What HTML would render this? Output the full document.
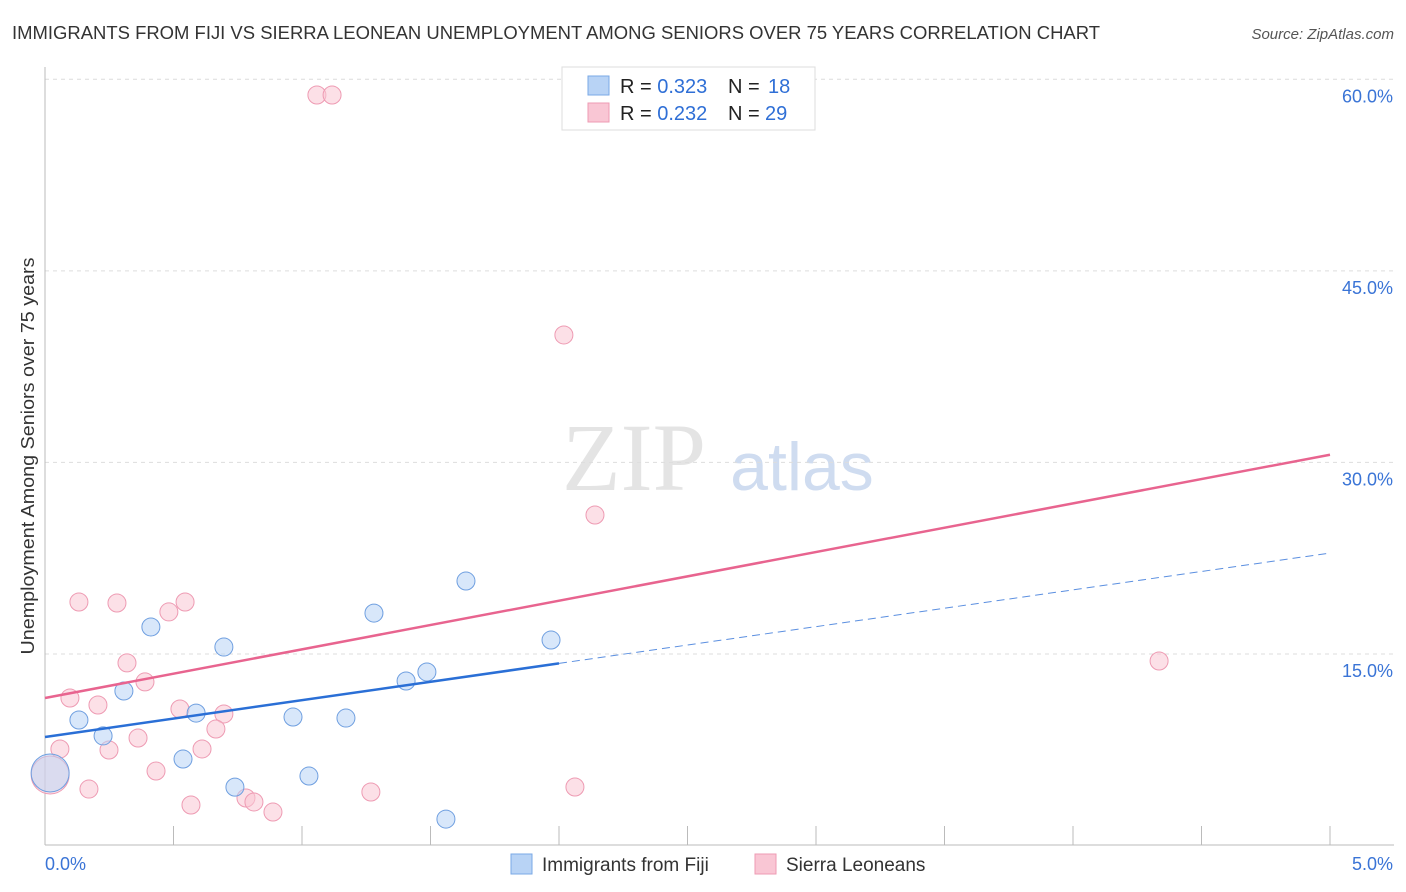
<!DOCTYPE html>
<html><head><meta charset="utf-8"><style>
body{margin:0;background:#fff;font-family:"Liberation Sans",sans-serif;}
svg{display:block}
</style></head><body>
<svg id="c" width="1406" height="892" xmlns="http://www.w3.org/2000/svg">
<text x="12" y="39" font-size="18" fill="#333" textLength="1088" lengthAdjust="spacingAndGlyphs">IMMIGRANTS FROM FIJI VS SIERRA LEONEAN UNEMPLOYMENT AMONG SENIORS OVER 75 YEARS CORRELATION CHART</text>
<text x="1394" y="39" font-size="15" fill="#555" font-style="italic" text-anchor="end">Source: ZipAtlas.com</text>
<text x="634" y="490" font-size="96" fill="#e4e4e4" font-family="Liberation Serif,serif" text-anchor="middle">ZIP</text>
<text x="802" y="490" font-size="68" fill="#cfdcf0" text-anchor="middle">atlas</text>
<g id="grid"></g><g id="marks"></g>
<text transform="translate(34,456) rotate(-90)" font-size="18" fill="#333" text-anchor="middle" textLength="397" lengthAdjust="spacingAndGlyphs">Unemployment Among Seniors over 75 years</text>
<g>
<rect x="562" y="67" width="253" height="63" fill="#fff" stroke="#ddd"/>
<rect x="588" y="76" width="21" height="19" fill="#b8d3f5" stroke="#7aa8e6"/>
<rect x="588" y="103" width="21" height="19" fill="#f9c6d4" stroke="#ee9bb3"/>
<text x="620" y="93" font-size="20" fill="#222">R = <tspan fill="#2f6fd6">0.323</tspan><tspan x="728">N = </tspan><tspan x="768" fill="#2f6fd6">18</tspan></text>
<text x="620" y="120" font-size="20" fill="#222">R = <tspan fill="#2f6fd6">0.232</tspan><tspan x="728">N = </tspan><tspan x="765" fill="#2f6fd6">29</tspan></text>
</g>
<g>
<rect x="511" y="854" width="21" height="20" fill="#b8d3f5" stroke="#7aa8e6"/>
<text x="542" y="871" font-size="19" fill="#333">Immigrants from Fiji</text>
<rect x="755" y="854" width="21" height="20" fill="#f9c6d4" stroke="#ee9bb3"/>
<text x="786" y="871" font-size="19" fill="#333">Sierra Leoneans</text>
</g>
</svg>
<script>
const yTicks=[15,30,45,60];
const yTickLabels=["15.0%","30.0%","45.0%","60.0%"];
const xTicks=[0,0.5,1,1.5,2,2.5,3,3.5,4,4.5,5];
const fijiX=[0.132,0.226,0.307,0.412,0.537,0.588,0.696,0.739,0.965,1.027,1.171,1.280,1.405,1.486,1.560,1.638,1.969,0.02];
const fijiY=[9.83,8.58,12.10,17.11,6.77,10.37,15.54,4.57,10.06,5.44,9.98,18.20,12.88,13.59,2.07,20.71,16.09,5.68];
const sierraX=[1.058,1.117,2.019,2.140,0.132,0.280,0.545,0.482,0.319,0.389,0.097,0.206,0.525,0.696,0.665,0.362,0.058,0.249,0.611,0.432,0.171,0.568,0.782,0.813,0.887,1.268,2.062,4.335,0.02];
const sierraY=[58.77,58.77,39.98,25.88,19.07,18.99,19.07,18.29,14.30,12.81,11.55,11.0,10.69,10.30,9.12,8.42,7.56,7.48,7.56,5.83,4.42,3.17,3.72,3.41,2.62,4.19,4.58,14.45,5.52];
const fijiTrend=[8.5,2.88];
const sierraTrend=[11.55,3.81];
const X=v=>45+v*257, Y=v=>845.5-v*12.77;
const NS="http://www.w3.org/2000/svg";
function mk(t,a,p){const e=document.createElementNS(NS,t);for(const k in a)e.setAttribute(k,a[k]);p.appendChild(e);return e;}
const g=document.getElementById('grid'),m=document.getElementById('marks');
yTicks.forEach((t,i)=>{
 const l=mk('line',{x1:45,x2:1394,y1:Y(t),y2:Y(t),stroke:'#ddd','stroke-dasharray':'4,4'},g);
 
 
 const tx=mk('text',{x:1393,y:Y(t)+23,'font-size':18,fill:'#3a74d6','text-anchor':'end'},g);tx.textContent=yTickLabels[i];
 
 
});
const topLine=mk('line',{x1:45,x2:1394,y1:79.5,y2:79.5,stroke:'#e4e4e4','stroke-dasharray':'4,4'},g);


const ya=mk('line',{x1:45,x2:45,y1:67,y2:845,stroke:'#bbb'},g);


const xa=mk('line',{x1:45,x2:1394,y1:845,y2:845,stroke:'#bbb'},g);


xTicks.forEach(t=>{if(t===0)return;const l=mk('line',{x1:X(t),x2:X(t),y1:826,y2:845,stroke:'#bbb'},g);
 
 });
const xl0=mk('text',{x:45,y:870,'font-size':18,fill:'#3a74d6'},g);xl0.textContent='0.0%';


const xl1=mk('text',{x:1393,y:870,'font-size':18,fill:'#3a74d6','text-anchor':'end'},g);xl1.textContent='5.0%';


function pts(xs,ys,fill,stroke,name){xs.forEach((x,i)=>{const big=i===xs.length-1;
 const c=mk('circle',{cx:X(x),cy:Y(ys[i]),r:big?19:9,fill:fill,'fill-opacity':big?0.5:0.55,stroke:stroke,'stroke-width':1},m);
 
 });}
pts(sierraX,sierraY,'#f9c6d4','#ee9bb3','sierra-point');
pts(fijiX,fijiY,'#b8d3f5','#6f9fe0','fiji-point');
const sl=mk('line',{x1:X(0),y1:Y(sierraTrend[0]),x2:X(5),y2:Y(sierraTrend[0]+5*sierraTrend[1]),stroke:'#e8648f','stroke-width':2.5},m);


const fl=mk('line',{x1:X(0),y1:Y(fijiTrend[0]),x2:X(2),y2:Y(fijiTrend[0]+2*fijiTrend[1]),stroke:'#2a6fd6','stroke-width':2.5},m);


const fd=mk('line',{x1:X(2),y1:Y(fijiTrend[0]+2*fijiTrend[1]),x2:X(5),y2:Y(fijiTrend[0]+5*fijiTrend[1]),stroke:'#5b8fe0','stroke-width':1,'stroke-dasharray':'8,5'},m);


</script>
</body></html>
